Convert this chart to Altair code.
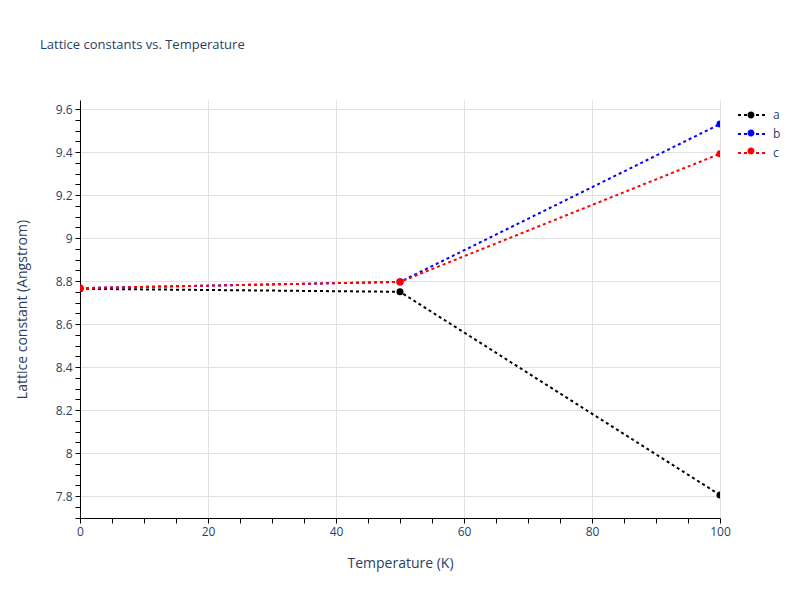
import altair as alt
import pandas as pd

TEMPS = [0, 50, 100]
LATTICE_A = [8.764, 8.750, 7.805]
LATTICE_B = [8.767, 8.796, 9.530]
LATTICE_C = [8.767, 8.796, 9.392]
SERIES = ["a", "b", "c"]
SERIES_COLORS = ["#000000", "#0000ff", "#ff0000"]
MARKERS = [f"{s}_marker" for s in SERIES]

X_TICKS = list(range(0, 101, 5))
Y_TICKS = [round(7.7 + 0.05 * i, 2) for i in range(39)]

FONT = "Open Sans"
TEXT_COLOR = "#2a3f5f"

rows = []
for name, marker, values in zip(SERIES, MARKERS, [LATTICE_A, LATTICE_B, LATTICE_C]):
    for t, v in zip(TEMPS, values):
        rows.append({"temperature": t, "lattice": v, "series": name, "marker": marker})
df = pd.DataFrame(rows)

major_x = "datum.value % 20 == 0"
major_y = "abs(datum.value * 5 - round(datum.value * 5)) < 1e-6"

x_enc = alt.X(
    "temperature:Q",
    title="Temperature (K)",
    scale=alt.Scale(domain=[0, 100], nice=False, zero=False),
    axis=alt.Axis(
        values=X_TICKS,
        tickCount=200,
        labelFlush=False,
        labelExpr=f"{major_x} ? format(datum.value, 'd') : ''",
        gridOpacity=alt.condition(major_x, alt.value(1), alt.value(0)),
        titleX=320,
        titleY=45,
        titleBaseline="middle",
    ),
)
y_enc = alt.Y(
    "lattice:Q",
    title="Lattice constant (Angstrom)",
    scale=alt.Scale(domain=[7.698, 9.642], nice=False, zero=False),
    axis=alt.Axis(
        values=Y_TICKS,
        tickCount=200,
        labelFlush=False,
        labelExpr=f"{major_y} ? format(datum.value, '.2~f') : ''",
        gridOpacity=alt.condition(major_y, alt.value(1), alt.value(0)),
        titleX=-58,
        titleY=209,
        titleBaseline="middle",
    ),
)

legend_common = dict(
    title=None,
    orient="none",
    legendX=664,
    symbolSize=196,
    labelOffset=13,
    rowPadding=5,
    labelFontSize=12,
    labelFont=FONT,
    labelColor=TEXT_COLOR,
    padding=0,
)

# line legend with labels; a second, label-less legend lays the dots on top
color_enc = alt.Color(
    "series:N",
    scale=alt.Scale(domain=SERIES, range=SERIES_COLORS),
    legend=alt.Legend(
        legendY=7,
        symbolType="M-2,0H2",
        symbolStrokeWidth=2,
        symbolDash=[3, 3],
        **legend_common,
    ),
)
fill_enc = alt.Fill(
    "marker:N",
    scale=alt.Scale(domain=MARKERS, range=SERIES_COLORS),
    legend=alt.Legend(
        legendY=8,
        symbolType="M0.5,0A0.5,0.5,0,1,1,-0.5,0A0.5,0.5,0,1,1,0.5,0",
        symbolStrokeWidth=0,
        symbolOpacity=1,
        labelExpr="''",
        **legend_common,
    ),
)

lines = (
    alt.Chart(df)
    .mark_line(strokeWidth=2, strokeDash=[3, 3], clip=True)
    .encode(x=x_enc, y=y_enc, color=color_enc)
)
points = (
    alt.Chart(df)
    .mark_point(filled=True, size=50, opacity=1, clip=True)
    .encode(x="temperature:Q", y="lattice:Q", fill=fill_enc)
)

chart = (
    (lines + points)
    .properties(
        width=640,
        height=418,
        autosize=alt.AutoSizeParams(type="none"),
        padding={"left": 72, "top": 92, "right": 72, "bottom": 74},
        title=alt.TitleParams(
            "Lattice constants vs. Temperature",
            anchor="start",
            frame="group",
            dx=-40,
            offset=48,
            fontSize=13,
            fontWeight="normal",
            font=FONT,
            color=TEXT_COLOR,
        ),
    )
    .configure_view(stroke=None)
    .configure_axis(
        domainColor="#000000",
        domainWidth=1,
        tickColor="#000000",
        tickSize=5,
        gridColor="#e1e1e1",
        gridWidth=1,
        labelFont=FONT,
        labelFontSize=12,
        labelColor=TEXT_COLOR,
        labelPadding=3,
        titleFont=FONT,
        titleFontSize=14,
        titleFontWeight="normal",
        titleColor=TEXT_COLOR,
    )
)

chart.save("out.html", embed_options={"renderer": "svg", "actions": False})
